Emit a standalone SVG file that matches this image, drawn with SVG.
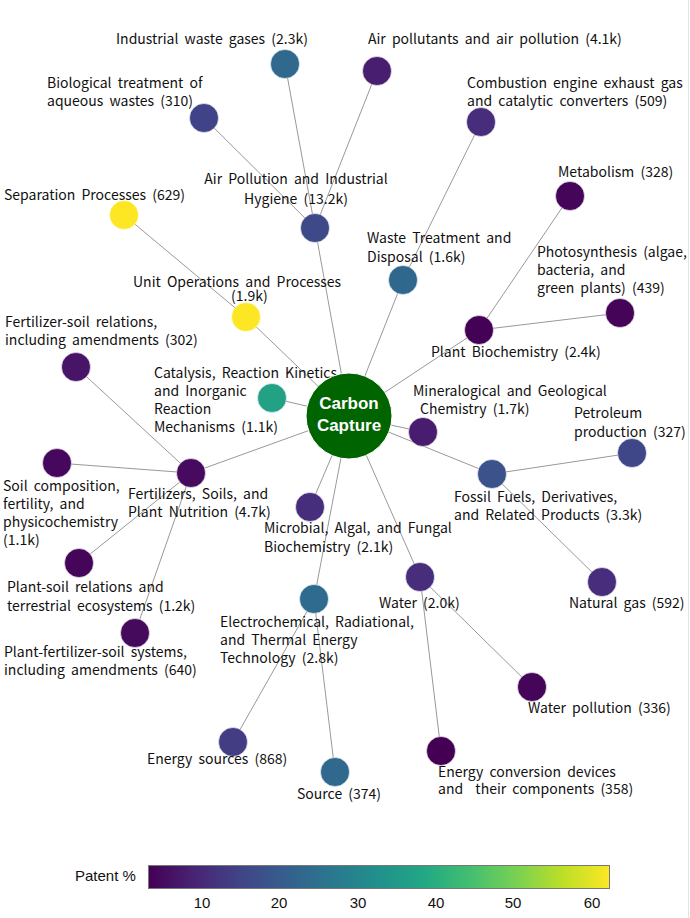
<svg xmlns="http://www.w3.org/2000/svg" width="690" height="918" viewBox="0 0 690 918">
<defs>
<linearGradient id="viridis" x1="0" y1="0" x2="1" y2="0">
<stop offset="0" stop-color="#440154"/>
<stop offset="0.1" stop-color="#482475"/>
<stop offset="0.2" stop-color="#414487"/>
<stop offset="0.3" stop-color="#355f8d"/>
<stop offset="0.4" stop-color="#2a788e"/>
<stop offset="0.5" stop-color="#21918c"/>
<stop offset="0.6" stop-color="#22a884"/>
<stop offset="0.7" stop-color="#44bf70"/>
<stop offset="0.8" stop-color="#7ad151"/>
<stop offset="0.9" stop-color="#bddf26"/>
<stop offset="1" stop-color="#fde725"/>
</linearGradient>
<style>
.lbl{font-family:"Noto Sans CJK KR","Noto Sans",sans-serif;font-size:14px;fill:#111;word-spacing:3px}
.n{stroke:#fff;stroke-width:0.6}
.e{stroke:#999;stroke-width:1;fill:none}
.ctr{font-family:"Liberation Sans",Arial,sans-serif;font-size:17px;font-weight:bold;fill:#fff;text-anchor:middle}
.leg{font-family:"Liberation Sans",Arial,sans-serif;font-size:15px;fill:#111}
.tick{font-family:"Liberation Sans",Arial,sans-serif;font-size:15px;fill:#111;text-anchor:middle}
</style>
</defs>
<rect width="690" height="918" fill="#fff"/>
<line x1="688.5" y1="0" x2="688.5" y2="918" stroke="#e4e4e4" stroke-width="1"/>
<g id="connectors">
<line class="e" x1="349" y1="416" x2="315" y2="228"/>
<line class="e" x1="315" y1="228" x2="285" y2="64"/>
<line class="e" x1="315" y1="228" x2="377" y2="71"/>
<line class="e" x1="315" y1="228" x2="204" y2="118"/>
<line class="e" x1="349" y1="416" x2="403" y2="280"/>
<line class="e" x1="403" y1="280" x2="481" y2="122"/>
<line class="e" x1="349" y1="416" x2="246" y2="317"/>
<line class="e" x1="246" y1="317" x2="124" y2="215"/>
<line class="e" x1="349" y1="416" x2="479" y2="330"/>
<line class="e" x1="479" y1="330" x2="570" y2="196"/>
<line class="e" x1="479" y1="330" x2="620" y2="313"/>
<line class="e" x1="349" y1="416" x2="272" y2="398"/>
<line class="e" x1="349" y1="416" x2="423" y2="432"/>
<line class="e" x1="349" y1="416" x2="492" y2="474"/>
<line class="e" x1="492" y1="474" x2="632" y2="453"/>
<line class="e" x1="492" y1="474" x2="602" y2="582"/>
<line class="e" x1="349" y1="416" x2="191" y2="473"/>
<line class="e" x1="191" y1="473" x2="76" y2="367"/>
<line class="e" x1="191" y1="473" x2="57" y2="463"/>
<line class="e" x1="191" y1="473" x2="79" y2="563"/>
<line class="e" x1="191" y1="473" x2="135" y2="633"/>
<line class="e" x1="349" y1="416" x2="310" y2="507"/>
<line class="e" x1="349" y1="416" x2="314" y2="599"/>
<line class="e" x1="314" y1="599" x2="233" y2="742"/>
<line class="e" x1="314" y1="599" x2="335" y2="772"/>
<line class="e" x1="349" y1="416" x2="420" y2="577"/>
<line class="e" x1="420" y1="577" x2="532" y2="687"/>
<line class="e" x1="420" y1="577" x2="441" y2="751"/>
</g>
<g id="node-industrial-waste-gases"><circle class="n" cx="285" cy="64" r="14.5" fill="#31688e"/><text class="lbl" x="116" y="44">Industrial waste gases (2.3k)</text></g>
<g id="node-air-pollutants"><circle class="n" cx="377" cy="71" r="14.5" fill="#481f70"/><text class="lbl" x="368" y="44">Air pollutants and air pollution (4.1k)</text></g>
<g id="node-biological-treatment"><circle class="n" cx="204" cy="118" r="14.5" fill="#404387"/><text class="lbl" x="47" y="88">Biological treatment of</text><text class="lbl" x="47" y="106">aqueous wastes (310)</text></g>
<g id="node-combustion-engine"><circle class="n" cx="481" cy="122" r="14.5" fill="#472d7b"/><text class="lbl" x="467" y="88">Combustion engine exhaust gas</text><text class="lbl" x="467" y="106">and catalytic converters (509)</text></g>
<g id="node-separation-processes"><circle class="n" cx="124" cy="215" r="14.5" fill="#fde725"/><text class="lbl" x="4" y="200">Separation Processes (629)</text></g>
<g id="node-metabolism"><circle class="n" cx="570" cy="196" r="14.5" fill="#450559"/><text class="lbl" x="558" y="177">Metabolism (328)</text></g>
<g id="node-air-pollution-hygiene"><circle class="n" cx="315" cy="228" r="14.5" fill="#3e4989"/><text class="lbl" x="296" y="184" text-anchor="middle">Air Pollution and Industrial</text><text class="lbl" x="296" y="204" text-anchor="middle">Hygiene (13.2k)</text></g>
<g id="node-waste-treatment"><circle class="n" cx="403" cy="280" r="14.5" fill="#30678d"/><text class="lbl" x="367" y="243">Waste Treatment and</text><text class="lbl" x="367" y="262">Disposal (1.6k)</text></g>
<g id="node-unit-operations"><circle class="n" cx="246" cy="317" r="14.5" fill="#fde725"/><text class="lbl" x="133" y="287">Unit Operations and Processes</text><text class="lbl" x="231" y="301">(1.9k)</text></g>
<g id="node-photosynthesis"><circle class="n" cx="620" cy="313" r="14.5" fill="#450457"/><text class="lbl" x="537" y="257">Photosynthesis (algae,</text><text class="lbl" x="537" y="275">bacteria, and</text><text class="lbl" x="537" y="293">green plants) (439)</text></g>
<g id="node-plant-biochemistry"><circle class="n" cx="479" cy="330" r="14.5" fill="#440256"/><text class="lbl" x="431" y="357">Plant Biochemistry (2.4k)</text></g>
<g id="node-fertilizer-soil-relations"><circle class="n" cx="76" cy="367" r="14.5" fill="#481467"/><text class="lbl" x="5" y="327">Fertilizer-soil relations,</text><text class="lbl" x="5" y="345">including amendments (302)</text></g>
<g id="node-catalysis"><circle class="n" cx="272" cy="398" r="14.5" fill="#22a185"/><text class="lbl" x="154" y="378">Catalysis, Reaction Kinetics,</text><text class="lbl" x="154" y="396">and Inorganic</text><text class="lbl" x="154" y="414">Reaction</text><text class="lbl" x="154" y="432">Mechanisms (1.1k)</text></g>
<g id="node-mineralogical"><circle class="n" cx="423" cy="432" r="14.5" fill="#481c6e"/><text class="lbl" x="413" y="396">Mineralogical and Geological</text><text class="lbl" x="420" y="414">Chemistry (1.7k)</text></g>
<g id="node-petroleum"><circle class="n" cx="632" cy="453" r="14.5" fill="#3f4788"/><text class="lbl" x="574" y="418">Petroleum</text><text class="lbl" x="574" y="437">production (327)</text></g>
<g id="node-soil-composition"><circle class="n" cx="57" cy="463" r="14.5" fill="#46085c"/><text class="lbl" x="3" y="491">Soil composition,</text><text class="lbl" x="3" y="509">fertility, and</text><text class="lbl" x="3" y="527">physicochemistry</text><text class="lbl" x="3" y="545">(1.1k)</text></g>
<g id="node-fertilizers-soils"><circle class="n" cx="191" cy="473" r="14.5" fill="#460b5e"/><text class="lbl" x="128" y="499">Fertilizers, Soils, and</text><text class="lbl" x="128" y="517">Plant Nutrition (4.7k)</text></g>
<g id="node-fossil-fuels"><circle class="n" cx="492" cy="474" r="14.5" fill="#3b528b"/><text class="lbl" x="454" y="502">Fossil Fuels, Derivatives,</text><text class="lbl" x="454" y="520">and Related Products (3.3k)</text></g>
<g id="node-microbial"><circle class="n" cx="310" cy="507" r="14.5" fill="#472e7c"/><text class="lbl" x="264" y="533">Microbial, Algal, and Fungal</text><text class="lbl" x="264" y="552">Biochemistry (2.1k)</text></g>
<g id="node-plant-soil-relations"><circle class="n" cx="79" cy="563" r="14.5" fill="#450559"/><text class="lbl" x="7" y="592">Plant-soil relations and</text><text class="lbl" x="7" y="611">terrestrial ecosystems (1.2k)</text></g>
<g id="node-natural-gas"><circle class="n" cx="602" cy="582" r="14.5" fill="#472d7b"/><text class="lbl" x="569" y="608">Natural gas (592)</text></g>
<g id="node-water"><circle class="n" cx="420" cy="577" r="14.5" fill="#472d7b"/><text class="lbl" x="379" y="608">Water (2.0k)</text></g>
<g id="node-electrochemical"><circle class="n" cx="314" cy="599" r="14.5" fill="#2f6b8e"/><text class="lbl" x="220" y="627">Electrochemical, Radiational,</text><text class="lbl" x="220" y="645">and Thermal Energy</text><text class="lbl" x="220" y="663">Technology (2.8k)</text></g>
<g id="node-plant-fertilizer-soil"><circle class="n" cx="135" cy="633" r="14.5" fill="#460a5d"/><text class="lbl" x="4" y="657">Plant-fertilizer-soil systems,</text><text class="lbl" x="4" y="675">including amendments (640)</text></g>
<g id="node-water-pollution"><circle class="n" cx="532" cy="687" r="14.5" fill="#450559"/><text class="lbl" x="528" y="713">Water pollution (336)</text></g>
<g id="node-energy-sources"><circle class="n" cx="233" cy="742" r="14.5" fill="#433d84"/><text class="lbl" x="147" y="764">Energy sources (868)</text></g>
<g id="node-energy-conversion"><circle class="n" cx="441" cy="751" r="14.5" fill="#440154"/><text class="lbl" x="438" y="777">Energy conversion devices</text><text class="lbl" x="438" y="794" xml:space="preserve">and  their components (358)</text></g>
<g id="node-source"><circle class="n" cx="335" cy="772" r="14.5" fill="#31688e"/><text class="lbl" x="297" y="799">Source (374)</text></g>
<g id="node-carbon-capture"><circle cx="349" cy="416" r="43" fill="#006400" stroke="#fff" stroke-width="1"/><text class="ctr" x="349" y="409">Carbon</text><text class="ctr" x="349" y="431">Capture</text></g>
<g id="legend">
<text class="leg" x="75" y="881">Patent %</text>
<rect x="148.5" y="865.5" width="461" height="23" fill="url(#viridis)" stroke="#777" stroke-width="1"/>
<text class="tick" x="202" y="908">10</text>
<text class="tick" x="279" y="908">20</text>
<text class="tick" x="358" y="908">30</text>
<text class="tick" x="436" y="908">40</text>
<text class="tick" x="513" y="908">50</text>
<text class="tick" x="592" y="908">60</text>
</g>
</svg>
